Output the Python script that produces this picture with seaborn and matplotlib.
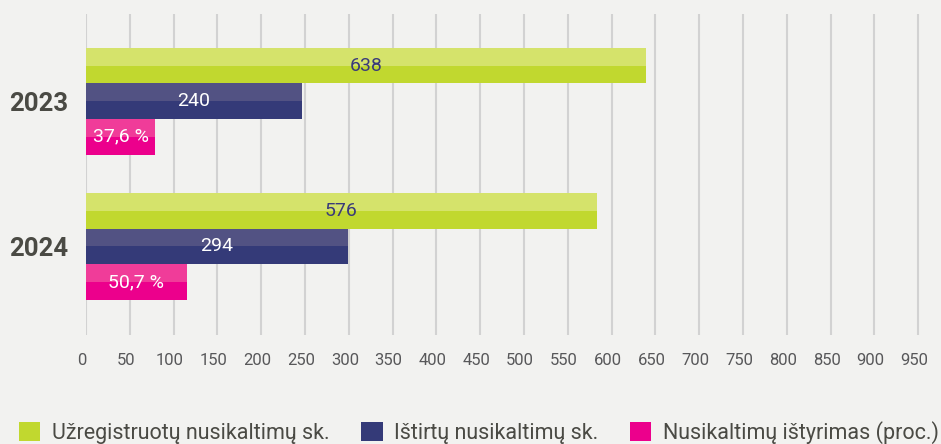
import numpy as np
import pandas as pd
import matplotlib
matplotlib.use("Agg")
import matplotlib.pyplot as plt
import matplotlib.transforms as mtransforms
from matplotlib.patches import Rectangle, Patch
import seaborn as sns

# ── Data ─────────────────────────────────────────────────────────────────────
years = ["2023", "2024"]
series = ["Užregistruotų nusikaltimų sk.", "Ištirtų nusikaltimų sk.", "Nusikaltimų ištyrimas (proc.)"]
registered = [638, 576]
investigated = [240, 294]
pct_values = [37.6, 50.7]
# bar lengths as they are drawn in the picture (not exactly the labelled values)
registered_len = [639, 583]
investigated_len = [246, 299]
pct_bar_len = [79, 115]
x_ticks = list(range(0, 951, 50))

# ── Style ────────────────────────────────────────────────────────────────────
BG = "#f2f2f0"
dark_cols = ["#c1d82f", "#343a78", "#ec008c"]
light_cols = ["#d5e36b", "#525283", "#f03c99"]
label_cols = ["#3a3a7a", "white", "white"]

sns.set_theme(style="white")
plt.rcParams["font.family"] = ["Roboto", "DejaVu Sans"]

df = pd.DataFrame({
    "year": years * 3,
    "series": [series[0]] * 2 + [series[1]] * 2 + [series[2]] * 2,
    "value": registered_len + investigated_len + pct_bar_len,
})
labels = [str(v) for v in registered] + [str(v) for v in investigated] + \
         [f"{v:.1f}".replace(".", ",") + " %" for v in pct_values]

fig = plt.figure(figsize=(9.41, 4.44), dpi=100, facecolor=BG)
ax = fig.add_axes([86 / 941, 109 / 444, (927 - 86) / 941, 321 / 444])
ax.set_facecolor(BG)

sns.barplot(data=df, y="year", x="value", hue="series", order=years, hue_order=series,
            palette=dark_cols, orient="h", width=0.735, dodge=True, legend=False,
            saturation=1, ax=ax, zorder=2)

# lighter upper half on every bar + value labels
bars = [p for p in ax.patches if isinstance(p, Rectangle)]
for i, p in enumerate(bars):
    s = i // 2
    x0, y0, w, h = p.get_x(), p.get_y(), p.get_width(), p.get_height()
    p.set_edgecolor("none")
    ax.add_patch(Rectangle((x0, y0), w, h / 2, facecolor=light_cols[s],
                           edgecolor="none", zorder=3))
    ax.text(x0 + w / 2, y0 + h / 2, labels[i], ha="center", va="center",
            fontsize=14, color=label_cols[s], zorder=4)

ax.set_xlim(0, 960)
ax.set_ylim(1.61, -0.6)
ax.set_xticks(x_ticks)
ax.grid(axis="x", color="#d2d2d2", linewidth=1.5, zorder=0)
ax.grid(axis="y", visible=False)
for sp in ax.spines.values():
    sp.set_visible(False)
ax.set_xlabel("")
ax.set_ylabel("")
ax.tick_params(axis="x", length=0, pad=13, labelsize=12, labelcolor="#58585a")
ax.tick_params(axis="y", length=0, pad=13, labelsize=18.5, labelcolor="#4a4a44")
for t in ax.get_yticklabels():
    t.set_fontweight("bold")
shift = mtransforms.ScaledTranslation(-4 / 100, 0, fig.dpi_scale_trans)
for t in ax.get_xticklabels():
    t.set_transform(t.get_transform() + shift)

handles = [Patch(facecolor=c, edgecolor="none") for c in dark_cols]
fig.legend(handles, series, loc="lower left", bbox_to_anchor=(8 / 941, -0.025),
           ncol=3, frameon=False, fontsize=15.5, handlelength=1.0, handleheight=1.0,
           handletextpad=0.55, columnspacing=1.45, borderpad=0, labelcolor="#4a4a44")

fig.savefig("out.png", dpi=100, facecolor=BG)
